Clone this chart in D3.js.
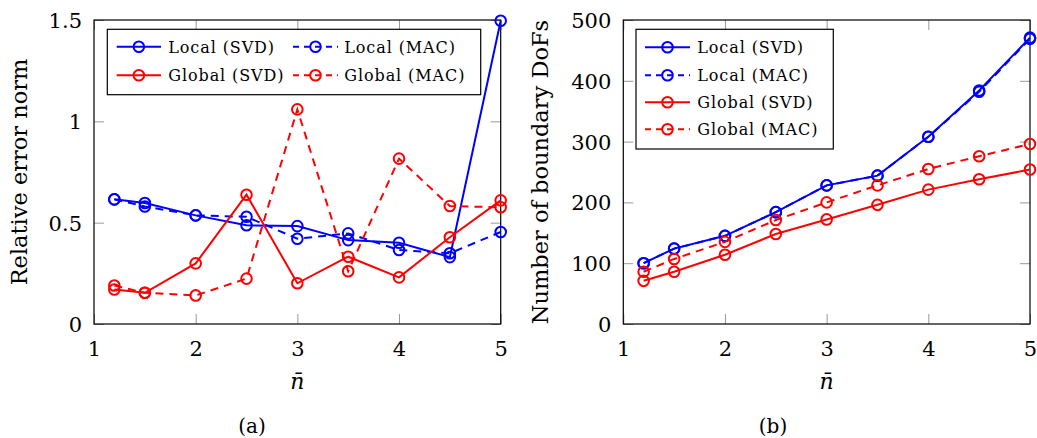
<!DOCTYPE html>
<html>
<head>
<meta charset="utf-8">
<script src="https://cdn.jsdelivr.net/npm/d3@7/dist/d3.min.js"></script>
<style>
  html, body { margin: 0; padding: 0; background: #fff; }
  svg { display: block; }
  text { font-family: "DejaVu Serif", serif; fill: #000; }
</style>
</head>
<body>
<svg id="chart" width="1037" height="438"></svg>
<script>
// ---------------- data ----------------
const nbar = [1.2, 1.5, 2, 2.5, 3, 3.5, 4, 4.5, 5];
const xTicks = [1, 2, 3, 4, 5];
const xTickLabels = ["1", "2", "3", "4", "5"];

const seriesNames = ["Local (SVD)", "Local (MAC)", "Global (SVD)", "Global (MAC)"];

// panel (a): relative error norm
const errLocalSVD  = [0.615, 0.597, 0.536, 0.487, 0.483, 0.414, 0.401, 0.330, 1.496];
const errLocalMAC  = [0.615, 0.580, 0.536, 0.529, 0.421, 0.447, 0.365, 0.349, 0.454];
const errGlobalSVD = [0.170, 0.154, 0.299, 0.638, 0.201, 0.332, 0.230, 0.428, 0.610];
const errGlobalMAC = [0.190, 0.154, 0.141, 0.224, 1.059, 0.260, 0.816, 0.582, 0.576];
const errTicks = [0, 0.5, 1, 1.5];
const errTickLabels = ["0", "0.5", "1", "1.5"];

// panel (b): number of boundary DoFs
const dofLocalSVD  = [100, 124, 145, 184, 228, 244, 308, 384, 471];
const dofLocalMAC  = [100, 124, 145, 184, 228, 244, 308, 382, 469];
const dofGlobalSVD = [71, 86, 114, 148, 172, 196, 221, 238, 254];
const dofGlobalMAC = [86, 107, 135, 171, 200, 228, 255, 276, 296];
const dofTicks = [0, 100, 200, 300, 400, 500];
const dofTickLabels = ["0", "100", "200", "300", "400", "500"];

// ---------------- styles ----------------
const FONT = "DejaVu Serif";
const seriesStyle = [
  { color: "#0000ff", dash: null },
  { color: "#0000ff", dash: "8,6" },
  { color: "#ff0000", dash: null },
  { color: "#ff0000", dash: "8,6" }
];

const svg = d3.select("#chart");

function drawPanel(cfg) {
  const x = d3.scaleLinear().domain([1, 5]).range([cfg.x0, cfg.x1]);
  const y = d3.scaleLinear().domain(cfg.yDomain).range([cfg.y1, cfg.y0]);
  const g = svg.append("g");

  // ticks (inward, mirrored)
  const tickCol = "#999";
  const bottom = g.append("g").attr("transform", `translate(0,${cfg.y1})`)
    .call(d3.axisBottom(x).tickValues(xTicks).tickSize(-10).tickPadding(17)
      .tickFormat((d, i) => xTickLabels[i]));
  const top = g.append("g").attr("transform", `translate(0,${cfg.y0})`)
    .call(d3.axisTop(x).tickValues(xTicks).tickSize(-10).tickFormat(() => ""));
  const left = g.append("g").attr("transform", `translate(${cfg.x0},0)`)
    .call(d3.axisLeft(y).tickValues(cfg.yTicks).tickSize(-10).tickPadding(12)
      .tickFormat((d, i) => cfg.yTickLabels[i]));
  const right = g.append("g").attr("transform", `translate(${cfg.x1},0)`)
    .call(d3.axisRight(y).tickValues(cfg.yTicks).tickSize(-10).tickFormat(() => ""));
  [bottom, top, left, right].forEach(a => {
    a.attr("font-family", FONT);
    a.select(".domain").remove();
    a.selectAll(".tick line").attr("stroke", tickCol).attr("stroke-width", 1);
    a.selectAll(".tick text").style("font-family", FONT).style("font-size", "21px").attr("fill", "#000");
  });
  left.selectAll(".tick text").attr("dy", "0.36em");

  // frame
  g.append("rect")
    .attr("x", cfg.x0).attr("y", cfg.y0)
    .attr("width", cfg.x1 - cfg.x0).attr("height", cfg.y1 - cfg.y0)
    .attr("fill", "none").attr("stroke", "#000").attr("stroke-width", 1.2);

  // series
  const line = d3.line().x((d, i) => x(nbar[i])).y(d => y(d));
  cfg.series.forEach((vals, s) => {
    const st = seriesStyle[s];
    g.append("path").datum(vals)
      .attr("d", line)
      .attr("fill", "none").attr("stroke", st.color).attr("stroke-width", 2)
      .attr("stroke-dasharray", st.dash);
    g.selectAll(null).data(vals).enter().append("circle")
      .attr("cx", (d, i) => x(nbar[i])).attr("cy", d => y(d)).attr("r", 5.3)
      .attr("fill", "none").attr("stroke", st.color).attr("stroke-width", 2);
  });

  // axis labels
  g.append("text")
    .attr("transform", `translate(${cfg.yLabelX},${(cfg.y0 + cfg.y1) / 2}) rotate(-90)`)
    .attr("text-anchor", "middle").style("font-size", "22.5px")
    .text(cfg.yLabel);
  g.append("text")
    .attr("x", (cfg.x0 + cfg.x1) / 2).attr("y", 389)
    .attr("text-anchor", "middle").style("font-size", "22px").style("font-style", "italic")
    .text("n\u0304");
  g.append("text")
    .attr("x", cfg.captionX).attr("y", 433)
    .attr("text-anchor", "middle").style("font-size", "20px")
    .text(cfg.caption);

  // legend
  const L = cfg.legend;
  g.append("rect").attr("x", L.x0).attr("y", L.y0)
    .attr("width", L.x1 - L.x0).attr("height", L.y1 - L.y0)
    .attr("fill", "#fff").attr("stroke", "#000").attr("stroke-width", 1.2);
  L.items.forEach(it => {
    const st = seriesStyle[it.s];
    g.append("line").attr("x1", it.lx0).attr("x2", it.lx1).attr("y1", it.y).attr("y2", it.y)
      .attr("stroke", st.color).attr("stroke-width", 2)
      .attr("stroke-dasharray", st.dash ? "6,5" : null);
    g.append("circle").attr("cx", (it.lx0 + it.lx1) / 2).attr("cy", it.y).attr("r", 5.3)
      .attr("fill", "none").attr("stroke", st.color).attr("stroke-width", 2);
    g.append("text").attr("x", it.tx).attr("y", it.y + 6)
      .style("font-size", "16px").style("letter-spacing", "0.9px")
      .text(seriesNames[it.s]);
  });
}

drawPanel({
  x0: 94, x1: 500.7, y0: 20, y1: 324,
  yDomain: [0, 1.5], yTicks: errTicks, yTickLabels: errTickLabels,
  series: [errLocalSVD, errLocalMAC, errGlobalSVD, errGlobalMAC],
  yLabel: "Relative error norm", yLabelX: 27,
  caption: "(a)", captionX: 252,
  legend: {
    x0: 107.3, x1: 480.7, y0: 29.3, y1: 94.7,
    items: [
      { s: 0, lx0: 116.7, lx1: 161, tx: 168.3, y: 46.7 },
      { s: 1, lx0: 293, lx1: 338, tx: 344.3, y: 46.7 },
      { s: 2, lx0: 116.7, lx1: 161, tx: 168.3, y: 75.3 },
      { s: 3, lx0: 293, lx1: 338, tx: 344.3, y: 75.3 }
    ]
  }
});

drawPanel({
  x0: 623.3, x1: 1030, y0: 20, y1: 324,
  yDomain: [0, 500], yTicks: dofTicks, yTickLabels: dofTickLabels,
  series: [dofLocalSVD, dofLocalMAC, dofGlobalSVD, dofGlobalMAC],
  yLabel: "Number of boundary DoFs", yLabelX: 548,
  caption: "(b)", captionX: 773,
  legend: {
    x0: 636, x1: 833.3, y0: 29.3, y1: 149,
    items: [
      { s: 0, lx0: 645, lx1: 690, tx: 697.3, y: 47.3 },
      { s: 1, lx0: 645, lx1: 690, tx: 697.3, y: 75.3 },
      { s: 2, lx0: 645, lx1: 690, tx: 697.3, y: 102.3 },
      { s: 3, lx0: 645, lx1: 690, tx: 697.3, y: 129.3 }
    ]
  }
});
</script>
</body>
</html>
